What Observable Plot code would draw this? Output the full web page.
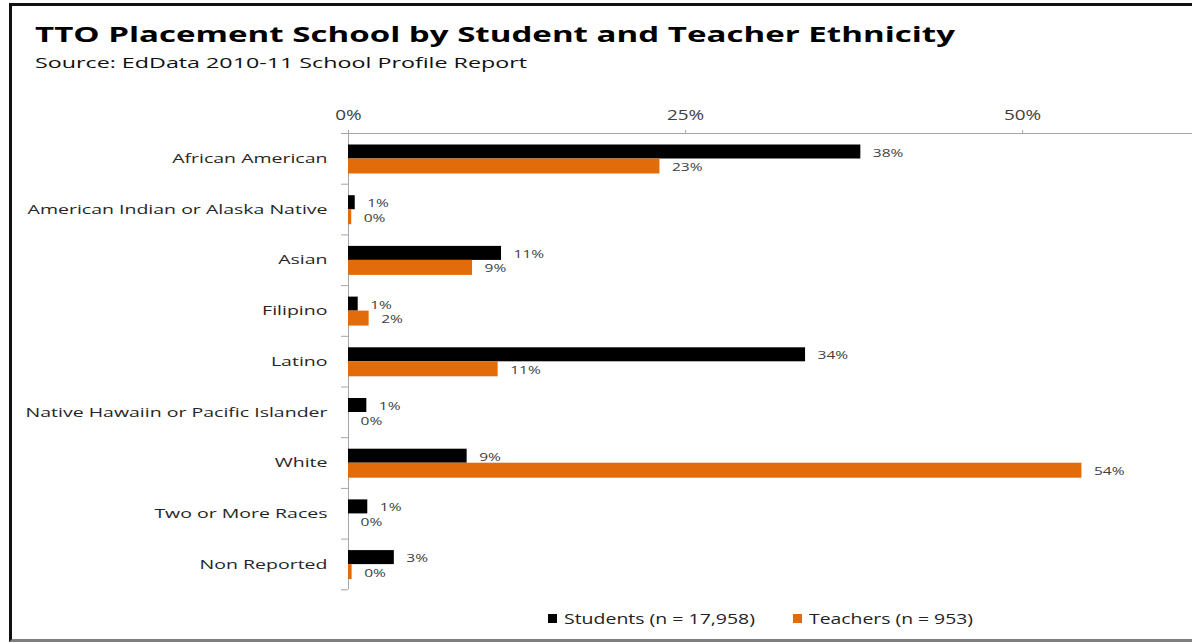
<!DOCTYPE html>
<html>
<head>
<meta charset="utf-8">
<script src="https://cdn.jsdelivr.net/npm/d3@7"></script>
<script src="https://cdn.jsdelivr.net/npm/@observablehq/plot@0.6"></script>
<style>
  html, body { margin: 0; padding: 0; background: #fff; }
  body { width: 1192px; height: 642px; position: relative; overflow: hidden; font-family: "Open Sans", "DejaVu Sans", sans-serif; }
  #frame { position: absolute; left: 9px; top: 3px; width: 1200px; height: 633px;
    border-left: 3px solid #111; border-top: 3px solid #111; border-bottom: 3px solid #7f7f7f; }
  .fit { position: absolute; white-space: nowrap; display: inline-block; transform-origin: 0 0; }
  #title { left: 35px; top: 20px; font-size: 21px; font-weight: 700; color: #000; }
  #subtitle { left: 35px; top: 52px; font-size: 15px; color: #111; }
  #chart { position: absolute; left: 0; top: 86px; line-height: 0; }
  .sw { position: absolute; width: 9px; height: 9px; top: 614px; }
  .leg { top: 609px; font-size: 14px; color: #222; }
</style>
</head>
<body>
<div id="frame"></div>
<div id="title" class="fit">TTO Placement School by Student and Teacher Ethnicity</div>
<div id="subtitle" class="fit">Source: EdData 2010-11 School Profile Report</div>
<div id="chart"></div>
<div id="legend"></div>
<script>
const categories = [
  "African American",
  "American Indian or Alaska Native",
  "Asian",
  "Filipino",
  "Latino",
  "Native Hawaiin or Pacific Islander",
  "White",
  "Two or More Races",
  "Non Reported"
];
const students = [38.0, 0.5, 11.35, 0.72, 33.9, 1.36, 8.8, 1.43, 3.4];
const teachers = [23.1, 0.24, 9.2, 1.53, 11.1, 0, 54.4, 0, 0.27];
const seriesNames = ["Students (n = 17,958)", "Teachers (n = 953)"];
const seriesColors = ["#000000", "#E36C0A"];
const xTicks = [0, 25, 50];

const studentRows = categories.map((c, i) => ({category: c, value: students[i]}));
const teacherRows = categories.map((c, i) => ({category: c, value: teachers[i]}));

const W = 1192, H = 514, mTop = 47, mBottom = 10.7;
const step = (H - mTop - mBottom) / categories.length;
const font = "'Open Sans', 'DejaVu Sans', sans-serif";
const axisGray = "#a6a6a6";

const chart = Plot.plot({
  width: W,
  height: H,
  marginTop: mTop,
  marginBottom: mBottom,
  marginLeft: 348,
  marginRight: 0,
  style: {fontFamily: font, background: "transparent", overflow: "visible"},
  x: {domain: [0, 62.6], axis: null},
  y: {domain: categories, padding: 0, round: false, axis: null},
  marks: [
    Plot.ruleY([categories[0]], {dy: -step / 2, stroke: axisGray}),
    Plot.ruleX([0], {stroke: axisGray}),
    Plot.axisX({anchor: "top", ticks: xTicks, tickFormat: d => d + "%", tickSize: 4, tickPadding: 10,
      stroke: axisGray, fill: "#404040", fontSize: 14, label: null}),
    Plot.axisY({anchor: "left", tickSize: 0, tickPadding: 21, fill: "#262626", fontSize: 13, label: null}),
    Plot.axisY({anchor: "left", tickSize: 7, tickFormat: () => "", stroke: axisGray, dy: step / 2, label: null}),
    Plot.axisY({anchor: "left", ticks: [categories[0]], tickSize: 7, tickFormat: () => "", stroke: axisGray, dy: -step / 2, label: null}),
    Plot.barX(studentRows, {y: "category", x: "value", fill: seriesColors[0], insetTop: 11.5, insetBottom: 25.2}),
    Plot.barX(teacherRows, {y: "category", x: "value", fill: seriesColors[1], insetTop: 25.5, insetBottom: 10.2}),
    Plot.text(studentRows, {y: "category", x: "value", text: d => Math.round(d.value) + "%", textAnchor: "start",
      dx: 12, dy: -6, fill: "#404040", fontSize: 11.5}),
    Plot.text(teacherRows, {y: "category", x: "value", text: d => Math.round(d.value) + "%", textAnchor: "start",
      dx: 12, dy: 8.5, fill: "#404040", fontSize: 11.5})
  ]
});
document.getElementById("chart").appendChild(chart);

// the reference's lettering is set wide: stretch the glyphs horizontally
function stretchSvgTexts(selector, k) {
  chart.querySelectorAll(selector).forEach(t => {
    const L = t.getComputedTextLength();
    if (L > 0) {
      t.setAttribute("textLength", L * k);
      t.setAttribute("lengthAdjust", "spacingAndGlyphs");
    }
  });
}
stretchSvgTexts('g[aria-label="y-axis tick label"] text', 1.5);
stretchSvgTexts('g[aria-label="x-axis tick label"] text', 1.35);
stretchSvgTexts('g[aria-label="text"] text', 1.35);

function fitWidth(el, target) {
  const w = el.getBoundingClientRect().width;
  el.style.transform = `scaleX(${target / w})`;
}
fitWidth(document.getElementById("title"), 920);
fitWidth(document.getElementById("subtitle"), 492);

const legend = document.getElementById("legend");
const legendX = [548, 793];
const legendW = [191, 164];
seriesNames.forEach((name, i) => {
  const sw = document.createElement("div");
  sw.className = "sw";
  sw.style.left = legendX[i] + "px";
  sw.style.background = seriesColors[i];
  legend.appendChild(sw);
  const tx = document.createElement("div");
  tx.className = "fit leg";
  tx.style.left = (legendX[i] + 16) + "px";
  tx.textContent = name;
  legend.appendChild(tx);
  fitWidth(tx, legendW[i]);
});
</script>
</body>
</html>
